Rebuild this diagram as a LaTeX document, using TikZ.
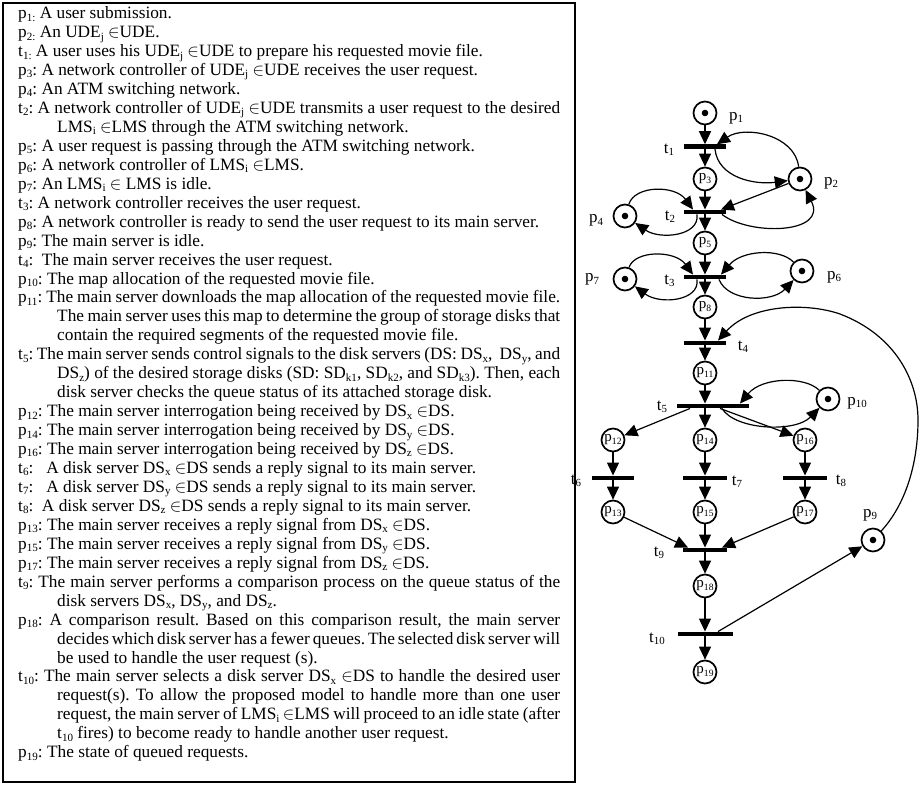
\documentclass[tikz,border=0pt]{standalone}
\usepackage{fontspec}
\setmainfont{Liberation Serif}
\usetikzlibrary{arrows.meta}
\newcommand\sbs[1]{\raisebox{-0.14em}{\scalebox{0.64}{#1}}}
\newcommand\inn{$\in$}
\begin{document}
\begin{tikzpicture}[x=1pt,y=-1pt,
  place/.style={circle,draw,line width=1.7pt,minimum size=23pt,inner sep=0pt,font=\fontsize{15}{15}\selectfont},
  marked/.style={place,path picture={\fill (path picture bounding box.center) circle (3.3pt);}},
  trans/.style={fill=black,inner sep=0pt,minimum height=4.5pt,minimum width=#1},
  trans/.default=42pt,
  parc/.style={line width=1.2pt,-{Triangle[length=13pt,width=12pt]}},
  lbl/.style={font=\fontsize{17}{17}\selectfont,inner sep=0pt},
  desc/.style={anchor=north west,inner sep=0pt,text width=542pt,align=justify,font=\fontsize{17.3}{18.95}\selectfont},
]
\useasboundingbox (0,0) rectangle (921,789);
\draw[line width=1.4pt] (3,3) rectangle (575,782);
\node[desc] (txt) at (18,6.5) {%
\parindent=0pt\parskip=0pt\tolerance=9999\emergencystretch=20pt\hyphenpenalty=10000\hbadness=10000\frenchspacing
\everypar{\hangindent=39pt\hangafter=1}%
p\sbs{1:} A user submission.\par
p\sbs{2:} An UDE\sbs{j} \inn UDE.\par
t\sbs{1:} A user uses his UDE\sbs{j} \inn UDE to prepare his requested movie file.\par
p\sbs{3}: A network controller of UDE\sbs{j} \inn UDE receives the user request.\par
p\sbs{4}: An ATM switching network.\par
t\sbs{2}: A network controller of UDE\sbs{j} \inn UDE transmits a user request to the desired\linebreak
LMS\sbs{i} \inn LMS through the ATM switching network.\par
p\sbs{5}: A user request is passing through the ATM switching network.\par
p\sbs{6}: A network controller of LMS\sbs{i} \inn LMS.\par
p\sbs{7}: An LMS\sbs{i} \inn{} LMS is idle.\par
t\sbs{3}: A network controller receives the user request.\par
p\sbs{8}: A network controller is ready to send the user request to its main server.\par
p\sbs{9}: The main server is idle.\par
t\sbs{4}:\ \ The main server receives the user request.\par
p\sbs{10}: The map allocation of the requested movie file.\par
p\sbs{11}: The main server downloads the map allocation of the requested movie file.\linebreak
The main server uses this map to determine the group of storage disks that\linebreak
contain the required segments of the requested movie file.\par
t\sbs{5}: The main server sends control signals to the disk servers (DS: DS\sbs{x},\ \ DS\sbs{y}, and\linebreak
DS\sbs{z}) of the desired storage disks (SD: SD\sbs{k1}, SD\sbs{k2}, and SD\sbs{k3}). Then, each\linebreak
disk server checks the queue status of its attached storage disk.\par
p\sbs{12}: The main server interrogation being received by DS\sbs{x} \inn DS.\par
p\sbs{14}: The main server interrogation being received by DS\sbs{y} \inn DS.\par
p\sbs{16}: The main server interrogation being received by DS\sbs{z} \inn DS.\par
t\sbs{6}:\ \ \ A disk server DS\sbs{x} \inn DS sends a reply signal to its main server.\par
t\sbs{7}:\ \ \ A disk server DS\sbs{y} \inn DS sends a reply signal to its main server.\par
t\sbs{8}:\ \ A disk server DS\sbs{z} \inn DS sends a reply signal to its main server.\par
p\sbs{13}: The main server receives a reply signal from DS\sbs{x} \inn DS.\par
p\sbs{15}: The main server receives a reply signal from DS\sbs{y} \inn DS.\par
p\sbs{17}: The main server receives a reply signal from DS\sbs{z} \inn DS.\par
t\sbs{9}: The main server performs a comparison process on the queue status of the\linebreak
disk servers DS\sbs{x}, DS\sbs{y}, and DS\sbs{z}.\par
p\sbs{18}:\ A comparison result. Based on this comparison result, the main server\linebreak
decides which disk server has a fewer queues. The selected disk server will\linebreak
be used to handle the user request (s).\par
t\sbs{10}: The main server selects a disk server DS\sbs{x} \inn DS to handle the desired user\linebreak
request(s). To allow the proposed model to handle more than one user\linebreak
request, the main server of LMS\sbs{i} \inn LMS will proceed to an idle state (after\linebreak
t\sbs{10} fires) to become ready to handle another user request.\par
p\sbs{19}: The state of queued requests.\par
};
% places and transitions
\node[marked] (p1) at (705,113) {};
\node[trans] (t1) at (705,146.7) {};
\node[place] (p3) at (705,179) {p\sbs{3}};
\node[marked] (p2) at (800,179) {};
\node[trans] (t2) at (705,212) {};
\node[marked] (p4) at (625,216) {};
\node[place] (p5) at (705,243) {p\sbs{5}};
\node[trans] (t3) at (705,277) {};
\node[marked] (p7) at (625,279) {};
\node[marked] (p6) at (802,271) {};
\node[place] (p8) at (705,307) {p\sbs{8}};
\node[trans] (t4) at (705,343) {};
\node[place] (p11) at (705,373) {p\sbs{11}};
\node[trans=72pt] (t5) at (713,406) {};
\node[marked] (p10) at (828,399) {};
\node[place] (p12) at (613,440) {p\sbs{12}};
\node[place] (p14) at (705,440) {p\sbs{14}};
\node[place] (p16) at (805,440) {p\sbs{16}};
\node[trans] (t6) at (613,478) {};
\node[trans=44pt] (t7) at (705,478) {};
\node[trans=44pt] (t8) at (805,478) {};
\node[place] (p13) at (613,512) {p\sbs{13}};
\node[place] (p15) at (705,512) {p\sbs{15}};
\node[place] (p17) at (805,512) {p\sbs{17}};
\node[trans=44pt] (t9) at (705,550) {};
\node[marked] (p9) at (873,540) {};
\node[place] (p18) at (705,586) {p\sbs{18}};
\node[trans=55pt] (t10) at (705,634) {};
\node[place] (p19) at (705,672) {p\sbs{19}};
% labels
\node[lbl] (lp1) at (736,118) {p\sbs{1}};
\node[lbl] (lt1) at (669,150) {t\sbs{1}};
\node[lbl] (lp2) at (831,183) {p\sbs{2}};
\node[lbl] (lt2) at (670,216.5) {t\sbs{2}};
\node[lbl] (lp4) at (596,220.5) {p\sbs{4}};
\node[lbl] (lt3) at (669.5,281) {t\sbs{3}};
\node[lbl] (lp7) at (592,279.5) {p\sbs{7}};
\node[lbl] (lp6) at (834,277) {p\sbs{6}};
\node[lbl] (lt4) at (743,347) {t\sbs{4}};
\node[lbl] (lt5) at (662,406.5) {t\sbs{5}};
\node[lbl] (lp10) at (857,403) {p\sbs{10}};
\node[lbl] (lt6) at (576,481) {t\sbs{6}};
\node[lbl] (lt7) at (737,481.5) {t\sbs{7}};
\node[lbl] (lt8) at (841,481) {t\sbs{8}};
\node[lbl] (lt9) at (659,552.5) {t\sbs{9}};
\node[lbl] (lp9) at (870,515) {p\sbs{9}};
\node[lbl] (lt10) at (657,639) {t\sbs{10}};
% straight vertical arcs
\draw[parc] (p1) -- (t1);
\draw[parc] (t1) -- (p3);
\draw[parc] (p3) -- (t2);
\draw[parc] (t2) -- (p5);
\draw[parc] (p5) -- (t3);
\draw[parc] (t3) -- (p8);
\draw[parc] (p8) -- (t4);
\draw[parc] (t4) -- (p11);
\draw[parc] (p11) -- (p11 |- t5.north);
\draw[parc] (t5.south -| p14) -- (p14);
\draw[parc] (p12) -- (t6);
\draw[parc] (t6) -- (p13);
\draw[parc] (p14) -- (t7);
\draw[parc] (t7) -- (p15);
\draw[parc] (p16) -- (t8);
\draw[parc] (t8) -- (p17);
\draw[parc] (p15) -- (t9);
\draw[parc] (t9) -- (p18);
\draw[parc] (p18) -- (t10);
\draw[parc] (t10) -- (p19);
% curved and slanted arcs
\draw[parc] (p2) .. controls (795,135) and (745,125) .. ([xshift=12pt]t1.north);
\draw[parc] ([xshift=10pt]t1.south) .. controls (718,178) and (755,185) .. (p2);
\draw[parc] (p2) -- ([xshift=16pt]t2.north);
\draw[parc] ([xshift=17pt]t2.south) .. controls (750,236) and (828,234) .. (p2);
\draw[parc] (p4) .. controls (635,185) and (675,185) .. ([xshift=-12pt]t2.north);
\draw[parc] ([xshift=-8pt]t2.south) .. controls (700,236) and (660,240) .. (p4);
\draw[parc] (p7) .. controls (635,250) and (675,250) .. ([xshift=-12pt]t3.north);
\draw[parc] ([xshift=-8pt]t3.south) .. controls (700,301) and (660,305) .. (p7);
\draw[parc] (p6) .. controls (780,248) and (742,250) .. ([xshift=16pt]t3.north);
\draw[parc] ([xshift=14pt]t3.south) .. controls (728,302) and (772,303) .. (p6);
\draw[parc] (p9) .. controls (905,505) and (918,465) .. (918,420) .. controls (918,380) and (895,335) .. (840,314) .. controls (805,302) and (750,305) .. ([xshift=13pt]t4.north);
\draw[parc] (p10) .. controls (805,376) and (762,377) .. ([xshift=27pt]t5.north);
\draw[parc] ([xshift=9pt]t5.south) .. controls (735,430) and (795,433) .. (p10);
\draw[parc] ([xshift=-23pt]t5.south) -- (p12);
\draw[parc] ([xshift=7pt]t5.south) -- (p16);
\draw[parc] (p13) -- ([xshift=-17pt]t9.north);
\draw[parc] (p17) -- ([xshift=17pt]t9.north);
\draw[parc] ([xshift=13pt]t10.north) -- (p9);
\end{tikzpicture}
\end{document}
